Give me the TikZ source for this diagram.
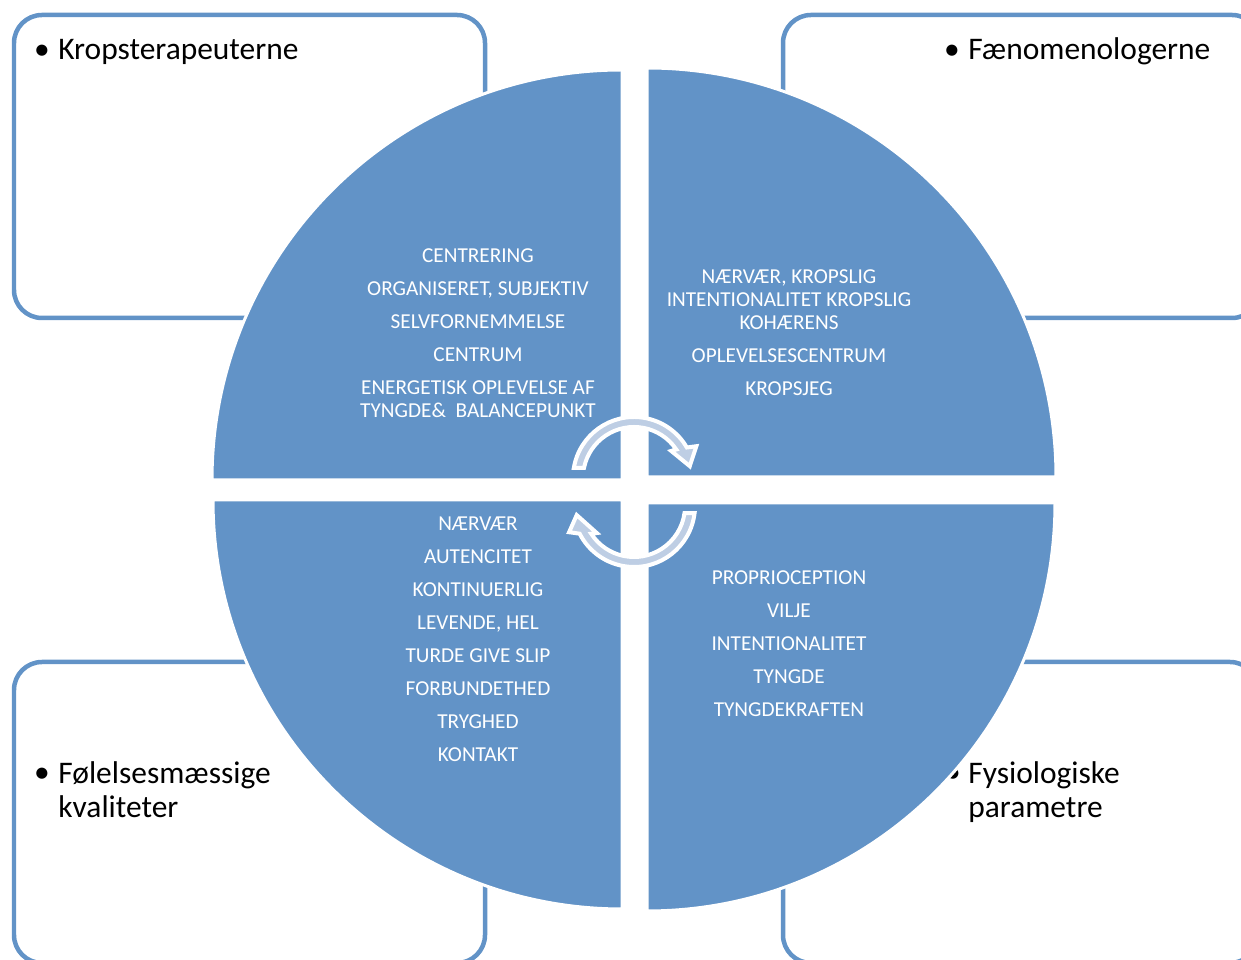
\documentclass[tikz,border=0pt]{standalone}
\usepackage{fontspec}
\setmainfont{Carlito}
\usetikzlibrary{calc}
\definecolor{qblue}{RGB}{98,147,199}
\definecolor{lightblue}{RGB}{190,206,228}

\begin{document}
\begin{tikzpicture}[x=0.02cm, y=0.02cm,
    box/.style={draw=qblue, line width=0.09cm, rounded corners=0.56cm},
    quad/.style={fill=qblue, draw=white, line width=0.06cm},
    cyc/.style={fill=lightblue, draw=white, line width=0.08cm},
    qtext/.style={text=white, font=\fontsize{12.1}{13.1}\selectfont, align=center, inner sep=0pt},
    ctext/.style={font=\fontsize{17.9}{19.9}\selectfont, align=left, inner sep=0pt}]
    \useasboundingbox (0,0) rectangle (1241,960);
    \clip (0,0) rectangle (1241,960);
    % corner boxes
    \draw[box] (14,642) rectangle (485,945);
    \draw[box] (783,642) rectangle (1260,945);
    \draw[box] (14,-3) rectangle (485,298);
    \draw[box] (783,-3) rectangle (1258,298);
    \node[ctext, anchor=base] (b1) at (42,900) {\textbullet};
    \node[ctext, anchor=base west] (kropsterapeuterne) at (58,900) {Kropsterapeuterne};
    \node[ctext, anchor=base] (b2) at (952,900) {\textbullet};
    \node[ctext, anchor=base west] (faenomenologerne) at (968,900) {Fænomenologerne};
    \node[ctext, anchor=base] (b3) at (42,177) {\textbullet};
    \node[ctext, anchor=base west] (foelelser) at (58,142) {Følelsesmæssige\\kvaliteter};
    \node[ctext, anchor=base] (b4) at (953,177) {\textbullet};
    \node[ctext, anchor=base west] (fysiologi) at (968,142) {Fysiologiske\\parametre};
    % quadrants
    \filldraw[quad] (622,480) -- (212,480) arc[start angle=180, end angle=90, radius=410] -- cycle;
    \filldraw[quad] (647,483) -- (647,892) arc[start angle=90, end angle=0, radius=409] -- cycle;
    \filldraw[quad] (622,460) -- (622,51) arc[start angle=270, end angle=180, radius=409] -- cycle;
    \filldraw[quad] (647,457) -- (1055,457) arc[start angle=0, end angle=-90, radius=408] -- cycle;
    \node[qtext, anchor=base] (tltext) at (478,542) {CENTRERING\\[5.7pt]
        ORGANISERET, SUBJEKTIV\\[5.7pt] SELVFORNEMMELSE\\[5.7pt] CENTRUM\\[5.7pt]
        ENERGETISK OPLEVELSE AF\\ TYNGDE\&\ \ BALANCEPUNKT};
    \node[qtext, anchor=base] (trtext) at (789,564) {NÆRVÆR, KROPSLIG\\
        INTENTIONALITET KROPSLIG\\ KOHÆRENS\\[5.7pt] OPLEVELSESCENTRUM\\[5.7pt] KROPSJEG};
    \node[qtext, anchor=base] (bltext) at (478,198) {NÆRVÆR\\[5.7pt] AUTENCITET\\[5.7pt]
        KONTINUERLIG\\[5.7pt] LEVENDE, HEL\\[5.7pt] TURDE GIVE SLIP\\[5.7pt]
        FORBUNDETHED\\[5.7pt] TRYGHED\\[5.7pt] KONTAKT};
    \node[qtext, anchor=base] (brtext) at (789,243) {PROPRIOCEPTION\\[5.7pt] VILJE\\[5.7pt]
        INTENTIONALITET\\[5.7pt] TYNGDE\\[5.7pt] TYNGDEKRAFTEN};
    % cycle arrows
    \coordinate (c1) at (634,482);
    \coordinate (c2) at (634,454);
    \filldraw[cyc] ($(c1)+(170.5:61)$) arc[start angle=170.5, end angle=30, radius=61]
        -- ($(c1)+(27:70)$) -- ($(c1)+(12:57)$) -- ($(c1)+(36:46)$)
        -- ($(c1)+(34:51)$) arc[start angle=34, end angle=168.5, radius=51] -- cycle;
    \filldraw[cyc] ($(c2)+(-6.6:61)$) arc[start angle=-6.6, end angle=-153, radius=61]
        -- ($(c2)+(-158:70)$) -- ($(c2)+(-171:58)$) -- ($(c2)+(-144:46)$)
        -- ($(c2)+(-147:51)$) arc[start angle=-147, end angle=-7.9, radius=51] -- cycle;
\end{tikzpicture}
\end{document}
